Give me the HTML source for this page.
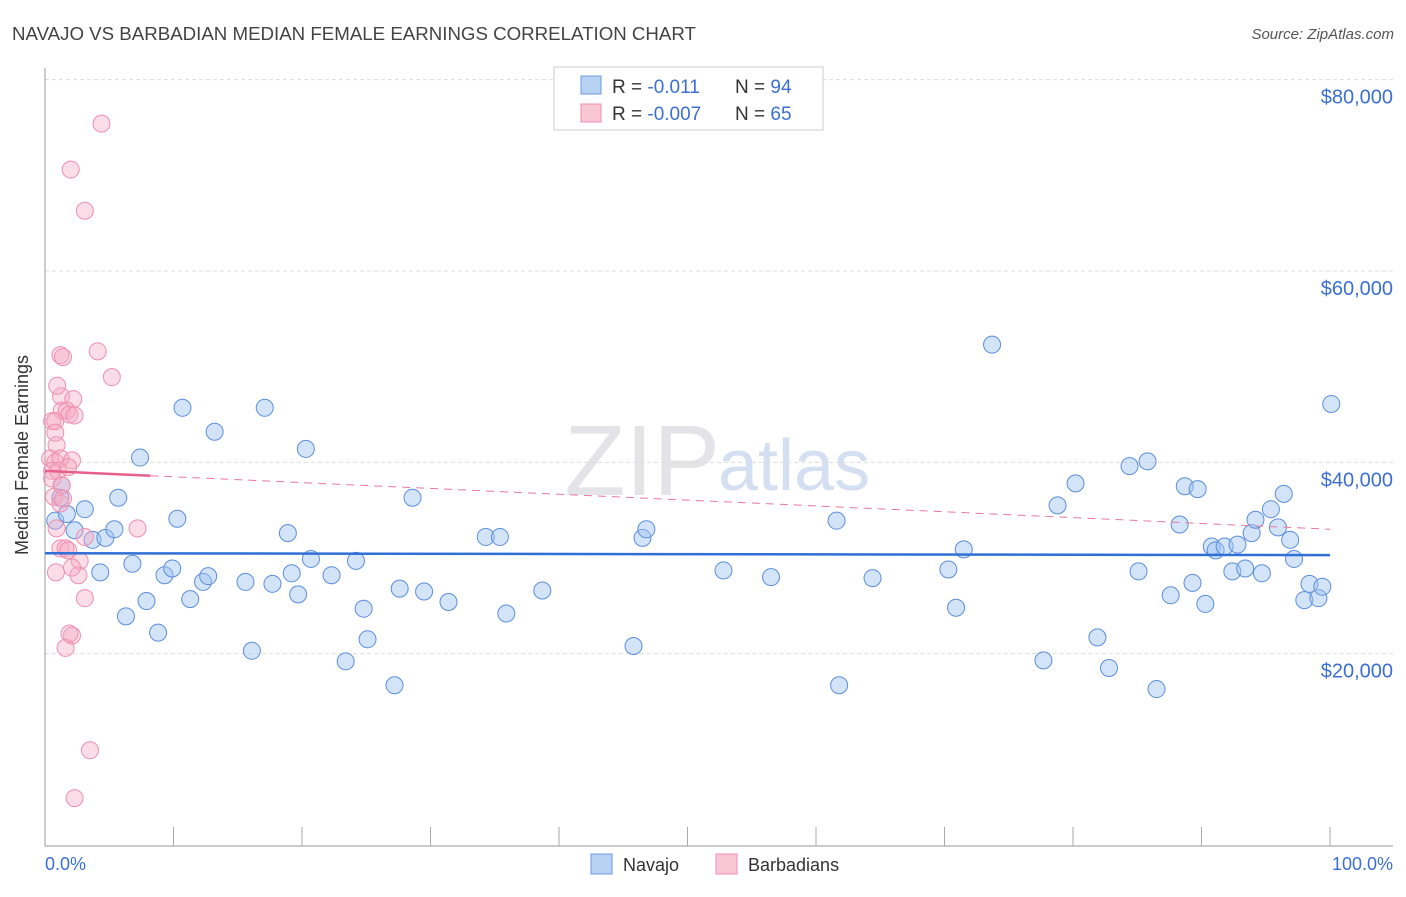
<!DOCTYPE html>
<html><head><meta charset="utf-8"><style>
body{margin:0;background:#fff;font-family:"Liberation Sans",sans-serif}
svg text{font-family:"Liberation Sans",sans-serif}
</style></head><body>
<svg width="1406" height="892">
<text x="12" y="40" font-size="18.7" fill="#444">NAVAJO VS BARBADIAN MEDIAN FEMALE EARNINGS CORRELATION CHART</text>
<text x="1394" y="39" font-size="15" fill="#555" font-style="italic" text-anchor="end">Source: ZipAtlas.com</text>
<text x="720" y="495" font-size="100" fill="#e4e4e8" text-anchor="end" font-family="Liberation Serif">ZIP</text>
<text x="718" y="490" font-size="72" fill="#d4e0f2">atlas</text>
<g id="grid"></g>
<line x1="45" y1="68" x2="45" y2="846" stroke="#999"/>
<line x1="45" y1="846" x2="1393" y2="846" stroke="#999"/>
<g id="xticks"></g>
<text x="28" y="455" font-size="18" fill="#333" text-anchor="middle" transform="rotate(-90 28 455)">Median Female Earnings</text>
<text x="45" y="870" font-size="18" fill="#3b6fd4">0.0%</text>
<text x="1393" y="870" font-size="18" fill="#3b6fd4" text-anchor="end">100.0%</text>
<g id="pts"></g>
<g id="trend"></g>
<g>
<rect x="554" y="67" width="269" height="63" fill="#fff" stroke="#ccc"/>
<rect x="581" y="76" width="20" height="18" fill="#b8d2f4" stroke="#6a9be0"/>
<rect x="581" y="104" width="20" height="18" fill="#f9c6d6" stroke="#ee90ad"/>
<text x="612" y="93" font-size="19" fill="#333">R = <tspan fill="#3b6fd4"> -0.011</tspan><tspan x="735">N = </tspan><tspan fill="#3b6fd4">94</tspan></text>
<text x="612" y="120" font-size="19" fill="#333">R = <tspan fill="#3b6fd4">-0.007</tspan><tspan x="735">N = </tspan><tspan fill="#3b6fd4">65</tspan></text>
</g>
<g>
<rect x="591" y="854" width="21" height="20" fill="#b8d2f4" stroke="#6a9be0"/>
<text x="623" y="871" font-size="18" fill="#333">Navajo</text>
<rect x="716" y="854" width="21" height="20" fill="#f9c6d6" stroke="#ee90ad"/>
<text x="748" y="871" font-size="18" fill="#333">Barbadians</text>
</g>
</svg>
<script>
const yTicks=[20000,40000,60000,80000];
const yTickLabels=["$20,000","$40,000","$60,000","$80,000"];
const navajoX=[0.8,1.2,1.3,1.7,2.3,3.1,3.7,4.3,4.7,5.4,5.7,6.3,6.8,7.4,7.9,8.8,9.3,9.9,10.3,10.7,11.3,12.3,12.7,13.2,15.6,16.1,17.1,17.7,18.9,19.2,19.7,20.3,20.7,22.3,23.4,24.2,24.8,25.1,27.2,27.6,28.6,29.5,31.4,34.3,35.4,35.9,38.7,45.8,46.5,46.8,52.8,56.5,61.6,61.8,64.4,70.3,70.9,71.5,73.7,77.7,78.8,80.2,81.9,82.8,84.4,85.1,85.8,86.5,87.6,88.3,88.7,89.3,89.7,90.3,90.8,91.1,91.8,92.4,92.8,93.4,93.9,94.2,94.7,95.4,95.95,96.4,96.9,97.2,98.0,98.4,99.1,99.4,100.1];
const navajoY=[33.9,36.3,37.6,34.6,32.9,35.1,31.9,28.5,32.1,33.0,36.3,23.9,29.4,40.5,25.5,22.2,28.2,28.9,34.1,45.7,25.7,27.5,28.1,43.2,27.5,20.3,45.7,27.3,32.6,28.4,26.2,41.4,29.9,28.2,19.2,29.7,24.7,21.5,16.7,26.8,36.3,26.5,25.4,32.2,32.2,24.2,26.6,20.8,32.1,33.0,28.7,28.0,33.9,16.7,27.9,28.8,24.8,30.9,52.3,19.3,35.5,37.8,21.7,18.5,39.6,28.6,40.1,16.3,26.1,33.5,37.5,27.4,37.2,25.2,31.2,30.8,31.2,28.6,31.4,28.9,32.6,34.0,28.4,35.1,33.2,36.7,31.9,29.9,25.6,27.3,25.8,27.0,46.1];
const barbX=[4.4,2.0,3.1,4.1,1.2,1.4,5.2,1.25,2.2,1.3,1.7,1.9,0.55,0.8,2.3,0.9,0.8,0.4,0.8,1.2,2.1,0.55,1.0,1.8,0.55,1.3,0.7,1.2,1.4,0.9,3.1,7.2,1.2,1.6,1.8,2.7,0.85,2.6,2.1,3.1,2.1,1.6,1.9,3.5,2.3,0.95];
const barbY=[75.4,70.6,66.3,51.6,51.2,51.0,48.9,46.9,46.6,45.4,45.4,45.0,44.3,44.3,44.9,41.8,43.1,40.4,40.0,40.4,40.2,39.1,39.1,39.5,38.3,37.6,36.4,35.7,36.2,33.1,32.2,33.1,31.0,31.0,30.8,29.7,28.5,28.2,29.0,25.8,21.9,20.6,22.1,9.9,4.9,48.0];
const navajoTrend=[30.5,30.3];
const barbTrend=[39.1,33.0];
const NS='http://www.w3.org/2000/svg';
const X0=45,X1=1330,Y0=845,PX=9.567;
const sx=v=>X0+(X1-X0)*v/100;
const sy=v=>Y0-v*PX;
function mk(tag,attrs,parent){const e=document.createElementNS(NS,tag);for(const k in attrs)e.setAttribute(k,attrs[k]);document.getElementById(parent).appendChild(e);return e;}
yTicks.forEach((t,i)=>{
 const l=mk('line',{x1:45,x2:1393,y1:sy(t/1000),y2:sy(t/1000),stroke:'#ddd','stroke-dasharray':'4,3'},'grid');
 
 
 const tx=mk('text',{x:1393,y:sy(t/1000)+24,'font-size':20,fill:'#3b6fd4','text-anchor':'end'},'grid');
 tx.textContent=yTickLabels[i];
 
 
});
for(let i=1;i<=10;i++){
 const l=mk('line',{x1:sx(i*10),x2:sx(i*10),y1:827,y2:846,stroke:'#aaa'},'xticks');
 
 
}
navajoX.forEach((x,i)=>{
 const c=mk('circle',{cx:sx(x),cy:sy(navajoY[i]),r:8.5,fill:'rgba(160,196,240,0.45)',stroke:'#5b8ede','stroke-width':1},'pts');
 
 
});
barbX.forEach((x,i)=>{
 const c=mk('circle',{cx:sx(x),cy:sy(barbY[i]),r:8.5,fill:'rgba(246,170,196,0.4)',stroke:'#ef8fae','stroke-width':1},'pts');
 
 
});
const tl=mk('line',{x1:sx(0),x2:sx(100),y1:sy(navajoTrend[0]),y2:sy(navajoTrend[1]),stroke:'#2f6fd6','stroke-width':2.5},'trend');


const bAt=x=>barbTrend[0]+(barbTrend[1]-barbTrend[0])*x/100;
const bs=mk('line',{x1:sx(0),x2:sx(8.2),y1:sy(bAt(0)),y2:sy(bAt(8.2)),stroke:'#e8608a','stroke-width':2.5},'trend');


const bd=mk('line',{x1:sx(8.2),x2:sx(100),y1:sy(bAt(8.2)),y2:sy(bAt(100)),stroke:'#e8789a','stroke-width':1,'stroke-dasharray':'8,6'},'trend');


</script>
</body></html>
